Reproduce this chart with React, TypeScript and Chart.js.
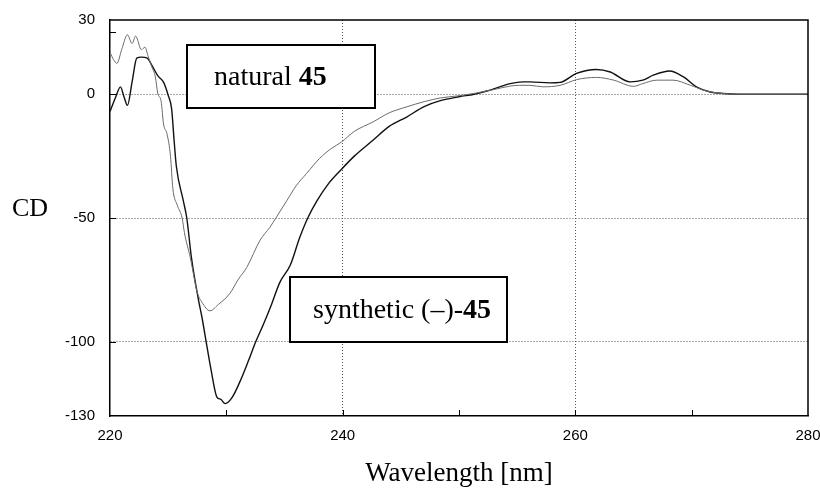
import React, { useEffect, useRef } from "react";
import { Chart, registerables } from "chart.js";

Chart.register(...registerables);

// ---- data ----
const naturalWavelength = [
  220.0, 220.3, 220.6, 221.0, 221.5, 221.9, 222.2, 222.7, 223.0, 223.3, 223.6, 223.9,
  224.1, 224.4, 224.6, 224.9, 225.2, 225.4, 225.8, 226.2, 226.4, 226.9, 227.5, 227.9,
  228.6, 229.3, 230.3, 231.0, 231.75, 232.9, 233.75, 234.3, 235.2, 236.0, 236.9, 238.0,
  239.0, 239.9, 241.0, 242.6, 244.0, 245.5, 247.0, 248.4, 250.0, 251.5, 253.0, 254.4,
  255.2, 256.1, 257.2, 258.7, 260.1, 261.8, 263.3, 265.0, 265.8, 267.0, 268.4, 269.9,
  271.3, 272.7, 274.0, 280.0,
];
const naturalCD = [
  17, 14, 12.5, 18, 24, 20.5, 23.5, 18, 19, 15, 11, 7,
  0.5, -3, -12, -16, -25, -38, -45, -50, -56, -66, -80, -84,
  -87.5, -85, -80.5, -75, -70, -59, -53.7, -49.7, -43, -37, -32, -26,
  -22, -19.3, -15, -11.2, -7.5, -5.1, -3, -1.5, -0.6, 0.5, 1.9, 3.3,
  3.6, 3.6, 3.0, 3.6, 5.9, 6.8, 5.7, 3.2, 4.3, 5.7, 5.7, 3.6,
  1.3, 0.3, 0, 0,
];
const syntheticWavelength = [
  220.0, 220.5, 220.9, 221.2, 221.5, 221.9, 222.3, 222.7, 223.2, 223.6, 224.1, 224.6,
  225.0, 225.3, 225.5, 225.7, 226.3, 226.6, 227.0, 227.6, 227.9, 228.3, 228.7, 229.2,
  229.5, 229.9, 230.5, 231.2, 231.9, 232.5, 233.2, 233.9, 234.6, 235.5, 236.3, 237.0,
  237.8, 238.8, 239.8, 241.0, 242.6, 244.0, 245.5, 247.0, 248.4, 250.0, 251.3, 252.4,
  253.5, 254.4, 255.5, 256.1, 257.8, 258.7, 260.1, 261.8, 263.0, 264.7, 265.8, 266.7,
  268.1, 269.3, 270.4, 271.6, 272.7, 274.0, 280.0,
];
const syntheticCD = [
  -7, -1, 3, -1, -4.5, 5, 14.6, 15, 14.6, 11.7, 7.5, 4.9,
  -0.4, -6, -18, -29, -43, -50, -66, -83, -90, -101, -111.7, -122.5,
  -123.2, -125, -122.5, -115.8, -107.7, -100.3, -92.8, -84.7, -76, -69, -58, -50,
  -43, -36, -30.8, -25, -18.6, -13, -9.2, -5, -2.6, -1, 0, 1.3,
  3, 4.3, 5.0, 5.0, 4.6, 4.8, 8.4, 10.0, 9.0, 5.0, 5.7, 7.7,
  9.4, 7.0, 3.0, 0.9, 0.3, 0, 0,
];

const xTickValues = [220, 230, 240, 250, 260, 270, 280];
const xLabelValues = [220, 240, 260, 280];
const xGridValues = [240, 260];
const xInnerTicks = [230, 240, 250, 260, 270];
const yTickValues = [30, 0, -50, -100, -130];
const yGridValues = [0, -50, -100];
const yInnerTicks = [25, 0, -50, -100];
const xTitle = "Wavelength [nm]";
const yTitle = "CD";
const naturalLabel: [string, boolean][] = [["natural ", false], ["45", true]];
const syntheticLabel: [string, boolean][] = [["synthetic (–)-", false], ["45", true]];

const SERIF = '"Liberation Serif", "Times New Roman", serif';
const SANS = '"Liberation Sans", Arial, sans-serif';

function drawLabelBox(
  ctx: CanvasRenderingContext2D,
  x: number, y: number, w: number, h: number,
  parts: [string, boolean][], textX: number, baseline: number, size: number
) {
  ctx.save();
  ctx.fillStyle = "#fff";
  ctx.fillRect(x, y, w, h);
  ctx.strokeStyle = "#000";
  ctx.lineWidth = 2;
  ctx.strokeRect(x, y, w, h);
  ctx.fillStyle = "#000";
  ctx.textBaseline = "alphabetic";
  ctx.textAlign = "left";
  let cx = textX;
  for (const [t, bold] of parts) {
    ctx.font = `${bold ? "bold " : ""}${size}px ${SERIF}`;
    ctx.fillText(t, cx, baseline);
    cx += ctx.measureText(t).width;
  }
  ctx.restore();
}

const decorPlugin = {
  id: "decor",
  afterDraw(chart: any) {
    const { ctx, chartArea: a, scales } = chart;
    const x = scales.x;
    const y = scales.y;
    ctx.save();
    // top & right frame
    ctx.strokeStyle = "#000";
    ctx.lineWidth = 1.5;
    ctx.beginPath();
    ctx.moveTo(a.left, a.top);
    ctx.lineTo(a.right, a.top);
    ctx.lineTo(a.right, a.bottom);
    ctx.stroke();
    // inward ticks
    ctx.lineWidth = 1;
    ctx.beginPath();
    for (const v of xInnerTicks) {
      const px = Math.round(x.getPixelForValue(v)) + 0.5;
      ctx.moveTo(px, a.bottom);
      ctx.lineTo(px, a.bottom - 6);
    }
    for (const v of yInnerTicks) {
      const py = Math.round(y.getPixelForValue(v)) + 0.5;
      ctx.moveTo(a.left, py);
      ctx.lineTo(a.left + 6, py);
    }
    ctx.stroke();
    // axis titles
    ctx.fillStyle = "#000";
    ctx.textAlign = "center";
    ctx.textBaseline = "middle";
    ctx.font = `26px ${SERIF}`;
    ctx.fillText(yTitle, 30, 209);
    ctx.font = `27px ${SERIF}`;
    ctx.fillText(xTitle, (a.left + a.right) / 2, 474);
    ctx.restore();
    // label boxes
    drawLabelBox(ctx, 187, 45, 188, 63, naturalLabel, 214, 85, 28);
    drawLabelBox(ctx, 290, 277, 217, 65, syntheticLabel, 313, 318, 28);
  },
};

export default function App() {
  const canvasRef = useRef<HTMLCanvasElement | null>(null);

  useEffect(() => {
    if (!canvasRef.current) return;
    const chart = new Chart(canvasRef.current, {
      type: "line",
      data: {
        datasets: [
          {
            label: "natural 45",
            data: naturalWavelength.map((w, i) => ({ x: w, y: naturalCD[i] })),
            borderColor: "#6a6a6a",
            borderWidth: 1,
            pointRadius: 0,
            cubicInterpolationMode: "monotone",
            fill: false,
          },
          {
            label: "synthetic (–)-45",
            data: syntheticWavelength.map((w, i) => ({ x: w, y: syntheticCD[i] })),
            borderColor: "#111",
            borderWidth: 1.4,
            pointRadius: 0,
            cubicInterpolationMode: "monotone",
            fill: false,
          },
        ],
      },
      options: {
        responsive: false,
        animation: false,
        devicePixelRatio: 1,
        layout: { padding: { left: 0, right: 12, top: 20, bottom: 0 } },
        plugins: {
          legend: { display: false },
          tooltip: { enabled: false },
        },
        scales: {
          x: {
            type: "linear",
            min: 220,
            max: 280,
            afterFit: (s: any) => { s.height = 81; s.paddingLeft = 0; s.paddingRight = 0; },
            afterBuildTicks: (s: any) => { s.ticks = xTickValues.map((v) => ({ value: v })); },
            ticks: {
              autoSkip: false,
              maxRotation: 0,
              padding: 11,
              color: "#000",
              font: { family: SANS, size: 15 },
              callback: (v: any) => (xLabelValues.includes(Number(v)) ? String(v) : ""),
            },
            grid: {
              drawTicks: false,
              lineWidth: 1,
              color: (c: any) => (c.tick && xGridValues.includes(c.tick.value) ? "#555" : "rgba(0,0,0,0)"),
            },
            border: { display: true, color: "#000", width: 1.5, dash: [1, 2] },
          },
          y: {
            type: "linear",
            min: -130,
            max: 30,
            afterFit: (s: any) => { s.width = 110; s.paddingTop = 0; s.paddingBottom = 0; },
            afterBuildTicks: (s: any) => { s.ticks = yTickValues.map((v) => ({ value: v })); },
            ticks: {
              autoSkip: false,
              padding: 15,
              color: "#000",
              font: { family: SANS, size: 15 },
              callback: (v: any) => String(v),
            },
            grid: {
              drawTicks: false,
              lineWidth: 1,
              color: (c: any) => (c.tick && yGridValues.includes(c.tick.value) ? "#555" : "rgba(0,0,0,0)"),
            },
            border: { display: true, color: "#000", width: 1.5, dash: [1, 2] },
          },
        },
      },
      plugins: [decorPlugin],
    } as any);
    return () => chart.destroy();
  }, []);

  return (
    <div style={{ position: "fixed", left: 0, top: 0, width: 820, height: 497, background: "#fff" }}>
      <canvas ref={canvasRef} width={820} height={497} />
    </div>
  );
}
